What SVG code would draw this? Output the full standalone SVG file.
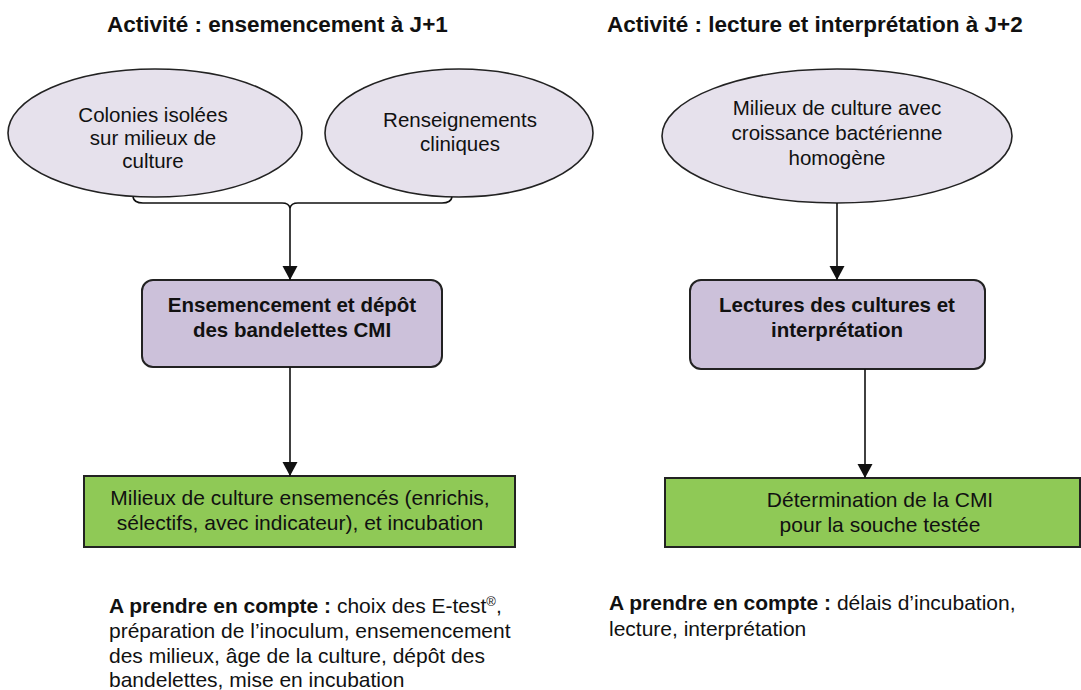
<svg xmlns="http://www.w3.org/2000/svg" width="1081" height="690" viewBox="0 0 1081 690">
<defs>
<style>
.t{font-family:"Liberation Sans",Arial,sans-serif;fill:#111;}
.title{font-size:22.5px;font-weight:bold;}
.el{fill:#E6E1EC;stroke:#222;stroke-width:1.6;}
.pb{fill:#CCC1DA;stroke:#222;stroke-width:2;}
.gb{fill:#8FC956;stroke:#222;stroke-width:2;}
.et{font-size:20.5px;text-anchor:middle;}
.bt{font-size:20.5px;font-weight:bold;text-anchor:middle;}
.gt{font-size:21px;text-anchor:middle;}
.nt{font-size:21px;}
.c{fill:none;stroke:#111;stroke-width:1.6;}
</style>
<marker id="ah" markerUnits="userSpaceOnUse" markerWidth="16" markerHeight="16" refX="14" refY="7.5" orient="auto">
<path d="M0,0 L14,7.5 L0,15 z" fill="#111"/>
</marker>
</defs>
<rect width="1081" height="690" fill="#fff"/>
<text class="t title" x="107" y="32">Activité : ensemencement à J+1</text>
<text class="t title" x="607" y="32">Activité : lecture et interprétation à J+2</text>

<g id="colonies">
<ellipse class="el" cx="155" cy="133" rx="147" ry="64"/>
<text class="t et" x="153" y="122">Colonies isolées</text>
<text class="t et" x="153" y="145">sur milieux de</text>
<text class="t et" x="153" y="168">culture</text>
</g>
<g id="renseignements">
<ellipse class="el" cx="459" cy="133" rx="134" ry="64"/>
<text class="t et" x="460" y="127">Renseignements</text>
<text class="t et" x="460" y="151">cliniques</text>
</g>
<g id="milieux-croissance">
<ellipse class="el" cx="837" cy="136" rx="175" ry="67"/>
<text class="t et" x="837" y="115">Milieux de culture avec</text>
<text class="t et" x="837" y="140">croissance bactérienne</text>
<text class="t et" x="837" y="165">homogène</text>
</g>
<g id="ensemencement">
<rect class="pb" x="142" y="280" width="300" height="87" rx="11"/>
<text class="t bt" x="292" y="312">Ensemencement et dépôt</text>
<text class="t bt" x="292" y="337">des bandelettes CMI</text>
</g>
<g id="lectures">
<rect class="pb" x="690" y="280" width="295" height="89" rx="11"/>
<text class="t bt" x="837" y="312">Lectures des cultures et</text>
<text class="t bt" x="837" y="337">interprétation</text>
</g>
<g id="milieux-ensemences">
<rect class="gb" x="84" y="476" width="431" height="71"/>
<text class="t gt" x="300" y="505">Milieux de culture ensemencés (enrichis,</text>
<text class="t gt" x="300" y="530">sélectifs, avec indicateur), et incubation</text>
</g>
<g id="determination">
<rect class="gb" x="665" y="478" width="415" height="69"/>
<text class="t gt" x="880" y="507">Détermination de la CMI</text>
<text class="t gt" x="880" y="532">pour la souche testée</text>
</g>
<g id="connectors">
<path class="c" d="M133,197 Q134,203 143,203 L282,203 Q289,203 290,208 Q291,203 298,203 L442,203 Q451,203 452,197"/>
<line class="c" x1="290" y1="208" x2="290" y2="280" marker-end="url(#ah)"/>
<line class="c" x1="290" y1="367" x2="290" y2="476" marker-end="url(#ah)"/>
<line class="c" x1="837" y1="203" x2="837" y2="280" marker-end="url(#ah)"/>
<line class="c" x1="865" y1="369" x2="865" y2="478" marker-end="url(#ah)"/>
</g>
<g id="notes">
<text class="t nt" x="109" y="613"><tspan font-weight="bold">A prendre en compte :</tspan> choix des E-test<tspan font-size="13" baseline-shift="super">®</tspan>,</text>
<text class="t nt" x="109" y="638">préparation de l’inoculum, ensemencement</text>
<text class="t nt" x="109" y="663">des milieux, âge de la culture, dépôt des</text>
<text class="t nt" x="109" y="687">bandelettes, mise en incubation</text>
<text class="t nt" x="609" y="610"><tspan font-weight="bold">A prendre en compte :</tspan> délais d’incubation,</text>
<text class="t nt" x="609" y="636">lecture, interprétation</text>
</g>
</svg>
